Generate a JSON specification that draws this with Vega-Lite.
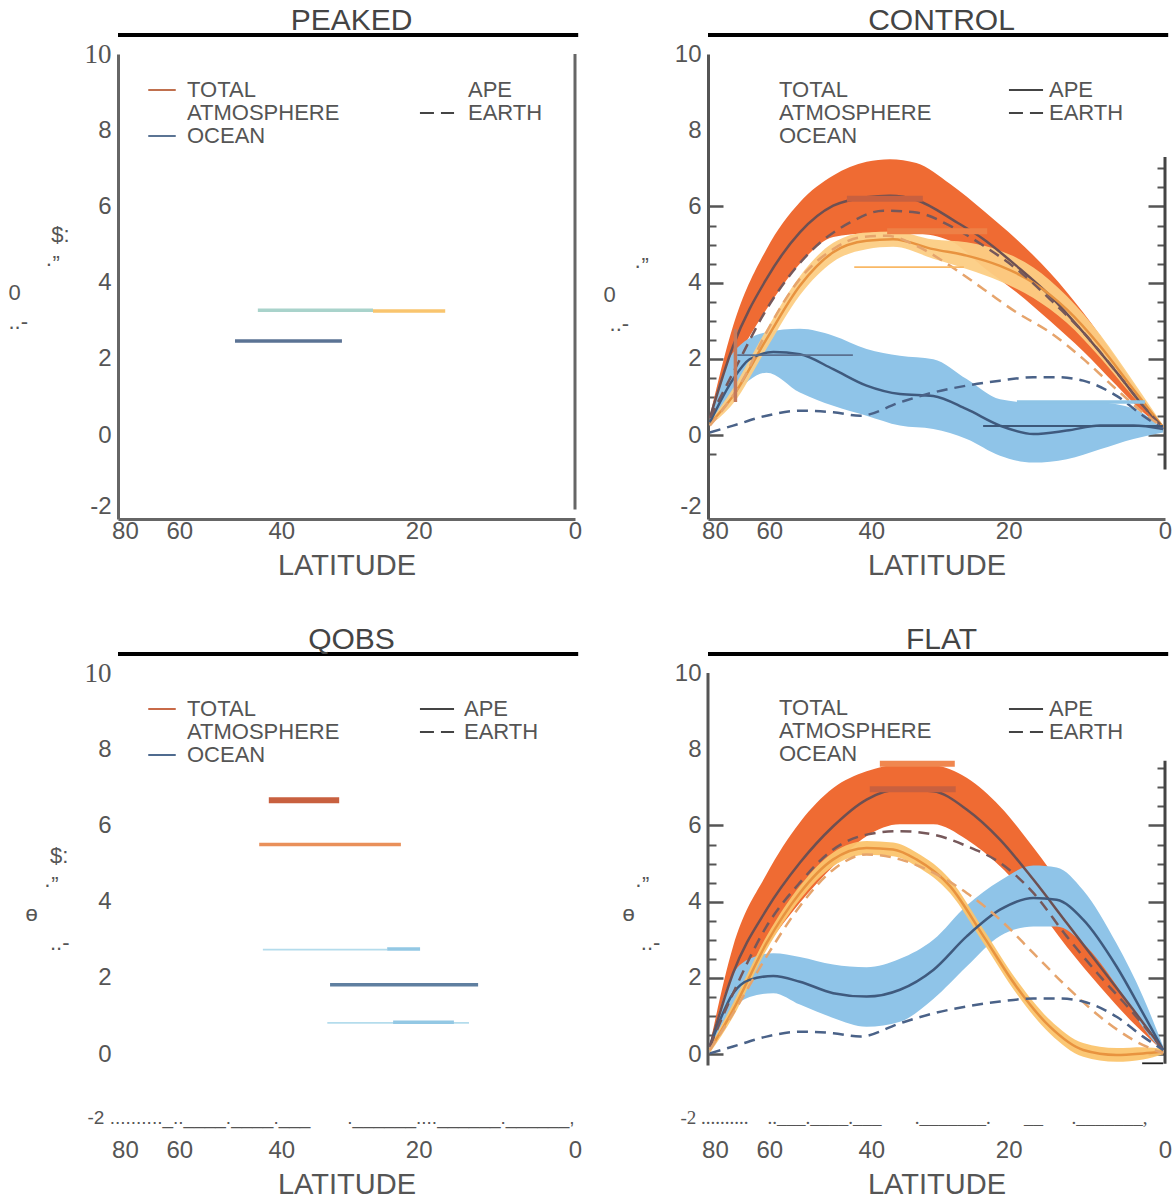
{
"$schema":"https://vega.github.io/schema/vega-lite/v6.json",
"background":"white",
"padding":{"left":8,"top":5,"right":0,"bottom":0},
"autosize":{"type":"pad"},
"config":{"view":{"stroke":null},"font":"Liberation Sans"},
"datasets":{
"leg":[{"series":"TOTAL","kind":"APE","s":0.5,"v":20},{"series":"ATMOSPHERE","kind":"EARTH","s":0.5,"v":20},{"series":"OCEAN","kind":"APE","s":0.5,"v":20}],
"segs":[
{"p":"P","key":"p1teal","s1":0.694,"s2":0.442,"v1":3.28,"v2":3.28},
{"p":"P","key":"p1yellow","s1":0.442,"s2":0.284,"v1":3.26,"v2":3.26},
{"p":"P","key":"p1slate","s1":0.744,"s2":0.51,"v1":2.47,"v2":2.47},
{"p":"C","key":"brownbar","s1":0.696,"s2":0.53,"v1":6.2,"v2":6.2},
{"p":"C","key":"orangebar","s1":0.608,"s2":0.389,"v1":5.35,"v2":5.35},
{"p":"C","key":"yellowthin","s1":0.68,"s2":0.44,"v1":4.41,"v2":4.41},
{"p":"C","key":"brownvert","s1":0.94,"s2":0.94,"v1":0.87,"v2":2.78},
{"p":"C","key":"slatethin","s1":0.936,"s2":0.683,"v1":2.1,"v2":2.1},
{"p":"C","key":"bluebar","s1":0.324,"s2":0.044,"v1":0.87,"v2":0.87},
{"p":"C","key":"darkthin","s1":0.398,"s2":0.004,"v1":0.24,"v2":0.24},
{"p":"Q","key":"brownbar","s1":0.67,"s2":0.516,"v1":6.66,"v2":6.66},
{"p":"Q","key":"p3orange","s1":0.691,"s2":0.381,"v1":5.5,"v2":5.5},
{"p":"Q","key":"p3lightblue","s1":0.683,"s2":0.411,"v1":2.74,"v2":2.74},
{"p":"Q","key":"p3blue","s1":0.411,"s2":0.339,"v1":2.76,"v2":2.76},
{"p":"Q","key":"p3slate","s1":0.536,"s2":0.212,"v1":1.82,"v2":1.82},
{"p":"Q","key":"p3lightblue","s1":0.542,"s2":0.232,"v1":0.82,"v2":0.82},
{"p":"Q","key":"p3blue","s1":0.398,"s2":0.265,"v1":0.84,"v2":0.84},
{"p":"F","key":"lightorangebar","s1":0.624,"s2":0.46,"v1":7.62,"v2":7.62},
{"p":"F","key":"brownbar","s1":0.646,"s2":0.458,"v1":6.95,"v2":6.95},
{"p":"F","key":"black","s1":0.05,"s2":0.004,"v1":-0.24,"v2":-0.24}
],
"bands":[
{"p":"C","series":"TOTAL","s":0.996,"lo":0.4,"hi":0.5},
{"p":"C","series":"TOTAL","s":0.945,"lo":1.8,"hi":2.87},
{"p":"C","series":"TOTAL","s":0.872,"lo":3.3,"hi":4.88},
{"p":"C","series":"TOTAL","s":0.799,"lo":4.5,"hi":6.11},
{"p":"C","series":"TOTAL","s":0.726,"lo":5.2,"hi":6.81},
{"p":"C","series":"TOTAL","s":0.653,"lo":5.3,"hi":7.17},
{"p":"C","series":"TOTAL","s":0.602,"lo":5.33,"hi":7.24},
{"p":"C","series":"TOTAL","s":0.544,"lo":5.3,"hi":7.14},
{"p":"C","series":"TOTAL","s":0.47,"lo":5.1,"hi":6.59},
{"p":"C","series":"TOTAL","s":0.397,"lo":4.4,"hi":5.89},
{"p":"C","series":"TOTAL","s":0.325,"lo":3.75,"hi":5.14},
{"p":"C","series":"TOTAL","s":0.252,"lo":3.0,"hi":4.27},
{"p":"C","series":"TOTAL","s":0.179,"lo":2.2,"hi":3.22},
{"p":"C","series":"TOTAL","s":0.106,"lo":1.3,"hi":2.0},
{"p":"C","series":"TOTAL","s":0.048,"lo":0.6,"hi":0.95},
{"p":"C","series":"TOTAL","s":0.004,"lo":0.2,"hi":0.25},
{"p":"C","series":"ATMOSPHERE","s":0.996,"lo":0.25,"hi":0.35},
{"p":"C","series":"ATMOSPHERE","s":0.945,"lo":0.83,"hi":1.23},
{"p":"C","series":"ATMOSPHERE","s":0.872,"lo":2.27,"hi":2.77},
{"p":"C","series":"ATMOSPHERE","s":0.799,"lo":3.67,"hi":4.17},
{"p":"C","series":"ATMOSPHERE","s":0.726,"lo":4.55,"hi":5.05},
{"p":"C","series":"ATMOSPHERE","s":0.653,"lo":4.88,"hi":5.32},
{"p":"C","series":"ATMOSPHERE","s":0.595,"lo":4.94,"hi":5.34},
{"p":"C","series":"ATMOSPHERE","s":0.507,"lo":4.63,"hi":5.13},
{"p":"C","series":"ATMOSPHERE","s":0.434,"lo":4.36,"hi":5.06},
{"p":"C","series":"ATMOSPHERE","s":0.361,"lo":4.04,"hi":4.84},
{"p":"C","series":"ATMOSPHERE","s":0.288,"lo":3.6,"hi":4.4},
{"p":"C","series":"ATMOSPHERE","s":0.215,"lo":2.95,"hi":3.65},
{"p":"C","series":"ATMOSPHERE","s":0.142,"lo":2.04,"hi":2.64},
{"p":"C","series":"ATMOSPHERE","s":0.069,"lo":1.0,"hi":1.4},
{"p":"C","series":"ATMOSPHERE","s":0.004,"lo":0.15,"hi":0.25},
{"p":"C","series":"OCEAN","s":0.996,"lo":0.25,"hi":0.5},
{"p":"C","series":"OCEAN","s":0.945,"lo":1.03,"hi":2.17},
{"p":"C","series":"OCEAN","s":0.872,"lo":1.64,"hi":2.7},
{"p":"C","series":"OCEAN","s":0.799,"lo":1.12,"hi":2.79},
{"p":"C","series":"OCEAN","s":0.726,"lo":0.77,"hi":2.61},
{"p":"C","series":"OCEAN","s":0.653,"lo":0.51,"hi":2.26},
{"p":"C","series":"OCEAN","s":0.58,"lo":0.25,"hi":2.08},
{"p":"C","series":"OCEAN","s":0.507,"lo":0.16,"hi":1.99},
{"p":"C","series":"OCEAN","s":0.434,"lo":-0.1,"hi":1.47},
{"p":"C","series":"OCEAN","s":0.361,"lo":-0.54,"hi":0.94},
{"p":"C","series":"OCEAN","s":0.288,"lo":-0.72,"hi":0.85},
{"p":"C","series":"OCEAN","s":0.215,"lo":-0.63,"hi":0.85},
{"p":"C","series":"OCEAN","s":0.142,"lo":-0.37,"hi":0.85},
{"p":"C","series":"OCEAN","s":0.069,"lo":-0.1,"hi":0.7},
{"p":"C","series":"OCEAN","s":0.004,"lo":0.07,"hi":0.15},
{"p":"F","series":"TOTAL","s":0.996,"lo":0.15,"hi":0.25},
{"p":"F","series":"TOTAL","s":0.945,"lo":1.42,"hi":2.83},
{"p":"F","series":"TOTAL","s":0.872,"lo":2.82,"hi":4.72},
{"p":"F","series":"TOTAL","s":0.799,"lo":3.97,"hi":6.08},
{"p":"F","series":"TOTAL","s":0.726,"lo":4.93,"hi":6.98},
{"p":"F","series":"TOTAL","s":0.653,"lo":5.72,"hi":7.42},
{"p":"F","series":"TOTAL","s":0.58,"lo":6.03,"hi":7.6},
{"p":"F","series":"TOTAL","s":0.507,"lo":6.03,"hi":7.58},
{"p":"F","series":"TOTAL","s":0.434,"lo":5.63,"hi":7.25},
{"p":"F","series":"TOTAL","s":0.361,"lo":4.93,"hi":6.5},
{"p":"F","series":"TOTAL","s":0.288,"lo":3.97,"hi":5.42},
{"p":"F","series":"TOTAL","s":0.215,"lo":2.82,"hi":4.2},
{"p":"F","series":"TOTAL","s":0.142,"lo":1.77,"hi":2.82},
{"p":"F","series":"TOTAL","s":0.069,"lo":0.81,"hi":1.42},
{"p":"F","series":"TOTAL","s":0.004,"lo":0.08,"hi":0.15},
{"p":"F","series":"ATMOSPHERE","s":0.996,"lo":0.03,"hi":0.19},
{"p":"F","series":"ATMOSPHERE","s":0.945,"lo":0.98,"hi":1.34},
{"p":"F","series":"ATMOSPHERE","s":0.872,"lo":2.73,"hi":3.09},
{"p":"F","series":"ATMOSPHERE","s":0.799,"lo":4.05,"hi":4.41},
{"p":"F","series":"ATMOSPHERE","s":0.726,"lo":4.93,"hi":5.29},
{"p":"F","series":"ATMOSPHERE","s":0.653,"lo":5.23,"hi":5.59},
{"p":"F","series":"ATMOSPHERE","s":0.595,"lo":5.19,"hi":5.55},
{"p":"F","series":"ATMOSPHERE","s":0.544,"lo":4.93,"hi":5.29},
{"p":"F","series":"ATMOSPHERE","s":0.47,"lo":4.22,"hi":4.58},
{"p":"F","series":"ATMOSPHERE","s":0.397,"lo":2.91,"hi":3.27},
{"p":"F","series":"ATMOSPHERE","s":0.325,"lo":1.59,"hi":1.95},
{"p":"F","series":"ATMOSPHERE","s":0.252,"lo":0.54,"hi":0.9},
{"p":"F","series":"ATMOSPHERE","s":0.179,"lo":-0.07,"hi":0.29},
{"p":"F","series":"ATMOSPHERE","s":0.106,"lo":-0.2,"hi":0.16},
{"p":"F","series":"ATMOSPHERE","s":0.048,"lo":-0.14,"hi":0.18},
{"p":"F","series":"ATMOSPHERE","s":0.004,"lo":0.0,"hi":0.14},
{"p":"F","series":"OCEAN","s":0.996,"lo":0.15,"hi":0.25},
{"p":"F","series":"OCEAN","s":0.945,"lo":1.2,"hi":2.1},
{"p":"F","series":"OCEAN","s":0.909,"lo":1.5,"hi":2.5},
{"p":"F","series":"OCEAN","s":0.857,"lo":1.6,"hi":2.65},
{"p":"F","series":"OCEAN","s":0.799,"lo":1.3,"hi":2.55},
{"p":"F","series":"OCEAN","s":0.726,"lo":0.95,"hi":2.35},
{"p":"F","series":"OCEAN","s":0.653,"lo":0.72,"hi":2.28},
{"p":"F","series":"OCEAN","s":0.58,"lo":0.85,"hi":2.5},
{"p":"F","series":"OCEAN","s":0.507,"lo":1.45,"hi":3.0},
{"p":"F","series":"OCEAN","s":0.434,"lo":2.3,"hi":3.9},
{"p":"F","series":"OCEAN","s":0.361,"lo":3.1,"hi":4.55},
{"p":"F","series":"OCEAN","s":0.288,"lo":3.35,"hi":4.95},
{"p":"F","series":"OCEAN","s":0.237,"lo":3.35,"hi":4.9},
{"p":"F","series":"OCEAN","s":0.179,"lo":2.9,"hi":4.3},
{"p":"F","series":"OCEAN","s":0.106,"lo":1.8,"hi":2.9},
{"p":"F","series":"OCEAN","s":0.048,"lo":0.7,"hi":1.5},
{"p":"F","series":"OCEAN","s":0.004,"lo":0.05,"hi":0.2}
],
"lines":[
{"p":"C","key":"TOTAL APE","kind":"APE","s":0.996,"v":0.45},
{"p":"C","key":"TOTAL APE","kind":"APE","s":0.945,"v":2.34},
{"p":"C","key":"TOTAL APE","kind":"APE","s":0.872,"v":4.1},
{"p":"C","key":"TOTAL APE","kind":"APE","s":0.799,"v":5.32},
{"p":"C","key":"TOTAL APE","kind":"APE","s":0.726,"v":6.02},
{"p":"C","key":"TOTAL APE","kind":"APE","s":0.653,"v":6.24},
{"p":"C","key":"TOTAL APE","kind":"APE","s":0.602,"v":6.28},
{"p":"C","key":"TOTAL APE","kind":"APE","s":0.544,"v":6.17},
{"p":"C","key":"TOTAL APE","kind":"APE","s":0.455,"v":5.58},
{"p":"C","key":"TOTAL APE","kind":"APE","s":0.397,"v":5.14},
{"p":"C","key":"TOTAL APE","kind":"APE","s":0.325,"v":4.44},
{"p":"C","key":"TOTAL APE","kind":"APE","s":0.252,"v":3.66},
{"p":"C","key":"TOTAL APE","kind":"APE","s":0.179,"v":2.7},
{"p":"C","key":"TOTAL APE","kind":"APE","s":0.106,"v":1.65},
{"p":"C","key":"TOTAL APE","kind":"APE","s":0.048,"v":0.77},
{"p":"C","key":"TOTAL APE","kind":"APE","s":0.004,"v":0.2},
{"p":"C","key":"TOTAL EARTH","kind":"EARTH","s":0.996,"v":0.45},
{"p":"C","key":"TOTAL EARTH","kind":"EARTH","s":0.945,"v":1.64},
{"p":"C","key":"TOTAL EARTH","kind":"EARTH","s":0.872,"v":3.3},
{"p":"C","key":"TOTAL EARTH","kind":"EARTH","s":0.777,"v":4.8},
{"p":"C","key":"TOTAL EARTH","kind":"EARTH","s":0.689,"v":5.58},
{"p":"C","key":"TOTAL EARTH","kind":"EARTH","s":0.616,"v":5.89},
{"p":"C","key":"TOTAL EARTH","kind":"EARTH","s":0.544,"v":5.84},
{"p":"C","key":"TOTAL EARTH","kind":"EARTH","s":0.47,"v":5.49},
{"p":"C","key":"TOTAL EARTH","kind":"EARTH","s":0.397,"v":4.97},
{"p":"C","key":"TOTAL EARTH","kind":"EARTH","s":0.325,"v":4.36},
{"p":"C","key":"TOTAL EARTH","kind":"EARTH","s":0.252,"v":3.57},
{"p":"C","key":"TOTAL EARTH","kind":"EARTH","s":0.179,"v":2.7},
{"p":"C","key":"TOTAL EARTH","kind":"EARTH","s":0.106,"v":1.65},
{"p":"C","key":"TOTAL EARTH","kind":"EARTH","s":0.048,"v":0.77},
{"p":"C","key":"TOTAL EARTH","kind":"EARTH","s":0.004,"v":0.2},
{"p":"C","key":"ATMOSPHERE APE","kind":"APE","s":0.996,"v":0.3},
{"p":"C","key":"ATMOSPHERE APE","kind":"APE","s":0.945,"v":1.03},
{"p":"C","key":"ATMOSPHERE APE","kind":"APE","s":0.872,"v":2.52},
{"p":"C","key":"ATMOSPHERE APE","kind":"APE","s":0.799,"v":3.92},
{"p":"C","key":"ATMOSPHERE APE","kind":"APE","s":0.726,"v":4.8},
{"p":"C","key":"ATMOSPHERE APE","kind":"APE","s":0.653,"v":5.1},
{"p":"C","key":"ATMOSPHERE APE","kind":"APE","s":0.595,"v":5.14},
{"p":"C","key":"ATMOSPHERE APE","kind":"APE","s":0.507,"v":4.88},
{"p":"C","key":"ATMOSPHERE APE","kind":"APE","s":0.434,"v":4.71},
{"p":"C","key":"ATMOSPHERE APE","kind":"APE","s":0.361,"v":4.44},
{"p":"C","key":"ATMOSPHERE APE","kind":"APE","s":0.288,"v":4.0},
{"p":"C","key":"ATMOSPHERE APE","kind":"APE","s":0.215,"v":3.3},
{"p":"C","key":"ATMOSPHERE APE","kind":"APE","s":0.142,"v":2.34},
{"p":"C","key":"ATMOSPHERE APE","kind":"APE","s":0.069,"v":1.2},
{"p":"C","key":"ATMOSPHERE APE","kind":"APE","s":0.004,"v":0.2},
{"p":"C","key":"ATMOSPHERE EARTH","kind":"EARTH","s":0.996,"v":0.25},
{"p":"C","key":"ATMOSPHERE EARTH","kind":"EARTH","s":0.923,"v":1.47},
{"p":"C","key":"ATMOSPHERE EARTH","kind":"EARTH","s":0.872,"v":2.7},
{"p":"C","key":"ATMOSPHERE EARTH","kind":"EARTH","s":0.799,"v":4.1},
{"p":"C","key":"ATMOSPHERE EARTH","kind":"EARTH","s":0.726,"v":4.88},
{"p":"C","key":"ATMOSPHERE EARTH","kind":"EARTH","s":0.667,"v":5.19},
{"p":"C","key":"ATMOSPHERE EARTH","kind":"EARTH","s":0.609,"v":5.23},
{"p":"C","key":"ATMOSPHERE EARTH","kind":"EARTH","s":0.544,"v":4.97},
{"p":"C","key":"ATMOSPHERE EARTH","kind":"EARTH","s":0.47,"v":4.44},
{"p":"C","key":"ATMOSPHERE EARTH","kind":"EARTH","s":0.397,"v":3.83},
{"p":"C","key":"ATMOSPHERE EARTH","kind":"EARTH","s":0.325,"v":3.22},
{"p":"C","key":"ATMOSPHERE EARTH","kind":"EARTH","s":0.252,"v":2.7},
{"p":"C","key":"ATMOSPHERE EARTH","kind":"EARTH","s":0.179,"v":2.0},
{"p":"C","key":"ATMOSPHERE EARTH","kind":"EARTH","s":0.106,"v":1.2},
{"p":"C","key":"ATMOSPHERE EARTH","kind":"EARTH","s":0.048,"v":0.59},
{"p":"C","key":"ATMOSPHERE EARTH","kind":"EARTH","s":0.004,"v":0.2},
{"p":"C","key":"OCEAN APE","kind":"APE","s":0.996,"v":0.33},
{"p":"C","key":"OCEAN APE","kind":"APE","s":0.945,"v":1.47},
{"p":"C","key":"OCEAN APE","kind":"APE","s":0.909,"v":1.99},
{"p":"C","key":"OCEAN APE","kind":"APE","s":0.857,"v":2.18},
{"p":"C","key":"OCEAN APE","kind":"APE","s":0.799,"v":2.12},
{"p":"C","key":"OCEAN APE","kind":"APE","s":0.726,"v":1.73},
{"p":"C","key":"OCEAN APE","kind":"APE","s":0.653,"v":1.3},
{"p":"C","key":"OCEAN APE","kind":"APE","s":0.58,"v":1.08},
{"p":"C","key":"OCEAN APE","kind":"APE","s":0.507,"v":1.03},
{"p":"C","key":"OCEAN APE","kind":"APE","s":0.434,"v":0.68},
{"p":"C","key":"OCEAN APE","kind":"APE","s":0.361,"v":0.25},
{"p":"C","key":"OCEAN APE","kind":"APE","s":0.288,"v":0.03},
{"p":"C","key":"OCEAN APE","kind":"APE","s":0.215,"v":0.12},
{"p":"C","key":"OCEAN APE","kind":"APE","s":0.142,"v":0.25},
{"p":"C","key":"OCEAN APE","kind":"APE","s":0.069,"v":0.25},
{"p":"C","key":"OCEAN APE","kind":"APE","s":0.004,"v":0.16},
{"p":"C","key":"OCEAN EARTH","kind":"EARTH","s":0.996,"v":0.07},
{"p":"C","key":"OCEAN EARTH","kind":"EARTH","s":0.945,"v":0.25},
{"p":"C","key":"OCEAN EARTH","kind":"EARTH","s":0.872,"v":0.51},
{"p":"C","key":"OCEAN EARTH","kind":"EARTH","s":0.799,"v":0.64},
{"p":"C","key":"OCEAN EARTH","kind":"EARTH","s":0.726,"v":0.6},
{"p":"C","key":"OCEAN EARTH","kind":"EARTH","s":0.667,"v":0.51},
{"p":"C","key":"OCEAN EARTH","kind":"EARTH","s":0.58,"v":0.86},
{"p":"C","key":"OCEAN EARTH","kind":"EARTH","s":0.507,"v":1.12},
{"p":"C","key":"OCEAN EARTH","kind":"EARTH","s":0.434,"v":1.3},
{"p":"C","key":"OCEAN EARTH","kind":"EARTH","s":0.361,"v":1.43},
{"p":"C","key":"OCEAN EARTH","kind":"EARTH","s":0.288,"v":1.52},
{"p":"C","key":"OCEAN EARTH","kind":"EARTH","s":0.237,"v":1.52},
{"p":"C","key":"OCEAN EARTH","kind":"EARTH","s":0.179,"v":1.43},
{"p":"C","key":"OCEAN EARTH","kind":"EARTH","s":0.106,"v":1.03},
{"p":"C","key":"OCEAN EARTH","kind":"EARTH","s":0.048,"v":0.51},
{"p":"C","key":"OCEAN EARTH","kind":"EARTH","s":0.004,"v":0.16},
{"p":"F","key":"TOTAL APE","kind":"APE","s":0.996,"v":0.2},
{"p":"F","key":"TOTAL APE","kind":"APE","s":0.945,"v":2.13},
{"p":"F","key":"TOTAL APE","kind":"APE","s":0.872,"v":3.79},
{"p":"F","key":"TOTAL APE","kind":"APE","s":0.799,"v":5.02},
{"p":"F","key":"TOTAL APE","kind":"APE","s":0.726,"v":5.98},
{"p":"F","key":"TOTAL APE","kind":"APE","s":0.653,"v":6.68},
{"p":"F","key":"TOTAL APE","kind":"APE","s":0.58,"v":6.95},
{"p":"F","key":"TOTAL APE","kind":"APE","s":0.507,"v":6.9},
{"p":"F","key":"TOTAL APE","kind":"APE","s":0.434,"v":6.42},
{"p":"F","key":"TOTAL APE","kind":"APE","s":0.361,"v":5.63},
{"p":"F","key":"TOTAL APE","kind":"APE","s":0.288,"v":4.58},
{"p":"F","key":"TOTAL APE","kind":"APE","s":0.215,"v":3.44},
{"p":"F","key":"TOTAL APE","kind":"APE","s":0.142,"v":2.3},
{"p":"F","key":"TOTAL APE","kind":"APE","s":0.069,"v":1.16},
{"p":"F","key":"TOTAL APE","kind":"APE","s":0.004,"v":0.11},
{"p":"F","key":"TOTAL EARTH","kind":"EARTH","s":0.996,"v":0.2},
{"p":"F","key":"TOTAL EARTH","kind":"EARTH","s":0.945,"v":1.6},
{"p":"F","key":"TOTAL EARTH","kind":"EARTH","s":0.872,"v":3.35},
{"p":"F","key":"TOTAL EARTH","kind":"EARTH","s":0.799,"v":4.5},
{"p":"F","key":"TOTAL EARTH","kind":"EARTH","s":0.726,"v":5.37},
{"p":"F","key":"TOTAL EARTH","kind":"EARTH","s":0.653,"v":5.76},
{"p":"F","key":"TOTAL EARTH","kind":"EARTH","s":0.58,"v":5.85},
{"p":"F","key":"TOTAL EARTH","kind":"EARTH","s":0.507,"v":5.76},
{"p":"F","key":"TOTAL EARTH","kind":"EARTH","s":0.434,"v":5.46},
{"p":"F","key":"TOTAL EARTH","kind":"EARTH","s":0.361,"v":5.02},
{"p":"F","key":"TOTAL EARTH","kind":"EARTH","s":0.288,"v":4.23},
{"p":"F","key":"TOTAL EARTH","kind":"EARTH","s":0.215,"v":3.09},
{"p":"F","key":"TOTAL EARTH","kind":"EARTH","s":0.142,"v":2.04},
{"p":"F","key":"TOTAL EARTH","kind":"EARTH","s":0.069,"v":1.07},
{"p":"F","key":"TOTAL EARTH","kind":"EARTH","s":0.004,"v":0.11},
{"p":"F","key":"ATMOSPHERE APE","kind":"APE","s":0.996,"v":0.11},
{"p":"F","key":"ATMOSPHERE APE","kind":"APE","s":0.945,"v":1.16},
{"p":"F","key":"ATMOSPHERE APE","kind":"APE","s":0.872,"v":2.91},
{"p":"F","key":"ATMOSPHERE APE","kind":"APE","s":0.799,"v":4.23},
{"p":"F","key":"ATMOSPHERE APE","kind":"APE","s":0.726,"v":5.11},
{"p":"F","key":"ATMOSPHERE APE","kind":"APE","s":0.653,"v":5.41},
{"p":"F","key":"ATMOSPHERE APE","kind":"APE","s":0.595,"v":5.37},
{"p":"F","key":"ATMOSPHERE APE","kind":"APE","s":0.544,"v":5.11},
{"p":"F","key":"ATMOSPHERE APE","kind":"APE","s":0.47,"v":4.4},
{"p":"F","key":"ATMOSPHERE APE","kind":"APE","s":0.397,"v":3.09},
{"p":"F","key":"ATMOSPHERE APE","kind":"APE","s":0.325,"v":1.77},
{"p":"F","key":"ATMOSPHERE APE","kind":"APE","s":0.252,"v":0.72},
{"p":"F","key":"ATMOSPHERE APE","kind":"APE","s":0.179,"v":0.11},
{"p":"F","key":"ATMOSPHERE APE","kind":"APE","s":0.106,"v":-0.02},
{"p":"F","key":"ATMOSPHERE APE","kind":"APE","s":0.048,"v":0.02},
{"p":"F","key":"ATMOSPHERE APE","kind":"APE","s":0.004,"v":0.07},
{"p":"F","key":"ATMOSPHERE EARTH","kind":"EARTH","s":0.996,"v":0.11},
{"p":"F","key":"ATMOSPHERE EARTH","kind":"EARTH","s":0.945,"v":1.07},
{"p":"F","key":"ATMOSPHERE EARTH","kind":"EARTH","s":0.872,"v":2.56},
{"p":"F","key":"ATMOSPHERE EARTH","kind":"EARTH","s":0.799,"v":3.88},
{"p":"F","key":"ATMOSPHERE EARTH","kind":"EARTH","s":0.726,"v":4.84},
{"p":"F","key":"ATMOSPHERE EARTH","kind":"EARTH","s":0.653,"v":5.24},
{"p":"F","key":"ATMOSPHERE EARTH","kind":"EARTH","s":0.58,"v":5.11},
{"p":"F","key":"ATMOSPHERE EARTH","kind":"EARTH","s":0.507,"v":4.76},
{"p":"F","key":"ATMOSPHERE EARTH","kind":"EARTH","s":0.434,"v":4.23},
{"p":"F","key":"ATMOSPHERE EARTH","kind":"EARTH","s":0.361,"v":3.53},
{"p":"F","key":"ATMOSPHERE EARTH","kind":"EARTH","s":0.288,"v":2.65},
{"p":"F","key":"ATMOSPHERE EARTH","kind":"EARTH","s":0.215,"v":1.77},
{"p":"F","key":"ATMOSPHERE EARTH","kind":"EARTH","s":0.142,"v":0.98},
{"p":"F","key":"ATMOSPHERE EARTH","kind":"EARTH","s":0.069,"v":0.37},
{"p":"F","key":"ATMOSPHERE EARTH","kind":"EARTH","s":0.004,"v":0.02},
{"p":"F","key":"OCEAN APE","kind":"APE","s":0.996,"v":0.2},
{"p":"F","key":"OCEAN APE","kind":"APE","s":0.945,"v":1.6},
{"p":"F","key":"OCEAN APE","kind":"APE","s":0.909,"v":1.95},
{"p":"F","key":"OCEAN APE","kind":"APE","s":0.857,"v":2.05},
{"p":"F","key":"OCEAN APE","kind":"APE","s":0.799,"v":1.9},
{"p":"F","key":"OCEAN APE","kind":"APE","s":0.726,"v":1.6},
{"p":"F","key":"OCEAN APE","kind":"APE","s":0.653,"v":1.51},
{"p":"F","key":"OCEAN APE","kind":"APE","s":0.58,"v":1.69},
{"p":"F","key":"OCEAN APE","kind":"APE","s":0.507,"v":2.21},
{"p":"F","key":"OCEAN APE","kind":"APE","s":0.434,"v":3.09},
{"p":"F","key":"OCEAN APE","kind":"APE","s":0.361,"v":3.79},
{"p":"F","key":"OCEAN APE","kind":"APE","s":0.288,"v":4.1},
{"p":"F","key":"OCEAN APE","kind":"APE","s":0.237,"v":4.05},
{"p":"F","key":"OCEAN APE","kind":"APE","s":0.179,"v":3.53},
{"p":"F","key":"OCEAN APE","kind":"APE","s":0.106,"v":2.3},
{"p":"F","key":"OCEAN APE","kind":"APE","s":0.048,"v":1.07},
{"p":"F","key":"OCEAN APE","kind":"APE","s":0.004,"v":0.11},
{"p":"F","key":"OCEAN EARTH","kind":"EARTH","s":0.996,"v":0.02},
{"p":"F","key":"OCEAN EARTH","kind":"EARTH","s":0.945,"v":0.2},
{"p":"F","key":"OCEAN EARTH","kind":"EARTH","s":0.872,"v":0.46},
{"p":"F","key":"OCEAN EARTH","kind":"EARTH","s":0.799,"v":0.59},
{"p":"F","key":"OCEAN EARTH","kind":"EARTH","s":0.726,"v":0.55},
{"p":"F","key":"OCEAN EARTH","kind":"EARTH","s":0.667,"v":0.46},
{"p":"F","key":"OCEAN EARTH","kind":"EARTH","s":0.58,"v":0.81},
{"p":"F","key":"OCEAN EARTH","kind":"EARTH","s":0.507,"v":1.07},
{"p":"F","key":"OCEAN EARTH","kind":"EARTH","s":0.434,"v":1.25},
{"p":"F","key":"OCEAN EARTH","kind":"EARTH","s":0.361,"v":1.38},
{"p":"F","key":"OCEAN EARTH","kind":"EARTH","s":0.288,"v":1.46},
{"p":"F","key":"OCEAN EARTH","kind":"EARTH","s":0.23,"v":1.46},
{"p":"F","key":"OCEAN EARTH","kind":"EARTH","s":0.179,"v":1.38},
{"p":"F","key":"OCEAN EARTH","kind":"EARTH","s":0.106,"v":0.98},
{"p":"F","key":"OCEAN EARTH","kind":"EARTH","s":0.048,"v":0.46},
{"p":"F","key":"OCEAN EARTH","kind":"EARTH","s":0.004,"v":0.11}
]
},
"columns":2,
"spacing":{"row":154,"column":133},
"bounds":"flush",
"resolve":{"scale":{"x":"independent","y":"independent","color":"independent","strokeDash":"independent","stroke":"independent"},"legend":{"color":"independent","strokeDash":"independent"},"axis":{"x":"independent","y":"independent"}},
"concat":[
{
"width":457,"height":465,
"title":{"text":"PEAKED","fontSize":30,"font":"Liberation Sans","fontWeight":"normal","color":"#444444","anchor":"middle","frame":"group","offset":-3,"dx":5},
"resolve":{"axis":{"x":"independent","y":"independent"}},
"layer":[
{"data":{"values":[{}]},"mark":{"type":"rule","color":"#000000","strokeWidth":4},
"encoding":{"x":{"datum":1,"type":"quantitative","scale":{"domain":[0,1],"reverse":true,"nice":false,"zero":false},"axis":{"orient":"bottom","values":[0.98481,0.86603,0.64279,0.34202,0],"labelExpr":"round(asin(datum.value)*180/PI)","title":"LATITUDE","ticks":false,"grid":false,"domain":true,"domainColor":"#666666","domainWidth":3,"labelFontSize":24,"labelColor":"#555555","labelFont":"Liberation Sans","labelPadding":0,"labelFlush":false,"labelOverlap":false,"titleFontSize":29,"titleFont":"Liberation Sans","titleFontWeight":"normal","titleColor":"#555555","titlePadding":8}},
"x2":{"datum":-0.007},
"y":{"datum":10.5,"type":"quantitative","scale":{"domain":[-2.2,10],"nice":false,"zero":false},"axis":{"orient":"left","values":[0,2,4,6,8,10],"ticks":false,"grid":false,"domain":true,"domainColor":"#666666","domainWidth":3,"labelFontSize":{"condition":{"test":"datum.value==10","value":27},"value":24},"labelColor":"#555555","labelFont":{"condition":{"test":"datum.value==10","value":"Liberation Serif"},"value":"Liberation Sans"},"labelPadding":7,"labelOverlap":false,"title":["\u200b\u00a0\u00a0\u00a0\u00a0\u00a0\u00a0\u00a0$:","\u200b\u00a0\u00a0\u00a0\u00a0\u00a0\u00a0·”","0","..-"],"titleAngle":0,"titleAlign":"left","titleBaseline":"top","titleX":-110,"titleY":170,"titleFontSize":22,"titleFont":"Liberation Sans","titleFontWeight":"normal","titleColor":"#555555","titleLineHeight":29}}}},
{"data":{"values":[{}]},"mark":{"type":"rule","color":"#666666","strokeWidth":3},
"encoding":{"x":{"datum":0,"type":"quantitative","scale":{"domain":[0,1],"reverse":true,"nice":false,"zero":false},"axis":null},"y":{"datum":-1.95,"type":"quantitative","scale":{"domain":[-2.2,10],"nice":false,"zero":false},"axis":null},"y2":{"datum":10}}},
{"data":{"name":"segs"},"transform":[{"filter":"datum.p=='P' && indexof(['slatethin','darkthin','black','yellowthin','p3lightblue'],datum.key)>=0"}],"mark":{"type":"rule","strokeWidth":1.8},
"encoding":{"x":{"field":"s1","type":"quantitative","scale":{"domain":[0,1],"reverse":true,"nice":false,"zero":false},"axis":null},"x2":{"field":"s2"},"y":{"field":"v1","type":"quantitative","scale":{"domain":[-2.2,10],"nice":false,"zero":false},"axis":null},"y2":{"field":"v2"},
"stroke":{"field":"key","type":"nominal","scale":{"domain":["TOTAL APE","TOTAL EARTH","ATMOSPHERE APE","ATMOSPHERE EARTH","OCEAN APE","OCEAN EARTH","p1teal","p1yellow","p1slate","brownbar","orangebar","yellowthin","brownvert","slatethin","bluebar","darkthin","p3orange","p3lightblue","p3blue","p3slate","lightorangebar","black"],"range":["#6d5052","#76585a","#e8933f","#e6a46c","#3f5a7e","#4a6288","#a9d3cb","#f9c56e","#5b7394","#c8603f","#ee8046","#f9b866","#c47a5c","#5a7090","#8ec4e6","#3d5879","#e9905a","#b4dcec","#93c8e4","#5f7fa0","#f0874f","#222222"]},"legend":null}}},
{"data":{"name":"segs"},"transform":[{"filter":"datum.p=='P' && indexof(['p1teal','p1yellow','p1slate','bluebar','brownvert','p3orange','p3blue','p3slate'],datum.key)>=0"}],"mark":{"type":"rule","strokeWidth":3.5},
"encoding":{"x":{"field":"s1","type":"quantitative","scale":{"domain":[0,1],"reverse":true,"nice":false,"zero":false},"axis":null},"x2":{"field":"s2"},"y":{"field":"v1","type":"quantitative","scale":{"domain":[-2.2,10],"nice":false,"zero":false},"axis":null},"y2":{"field":"v2"},
"stroke":{"field":"key","type":"nominal","scale":{"domain":["TOTAL APE","TOTAL EARTH","ATMOSPHERE APE","ATMOSPHERE EARTH","OCEAN APE","OCEAN EARTH","p1teal","p1yellow","p1slate","brownbar","orangebar","yellowthin","brownvert","slatethin","bluebar","darkthin","p3orange","p3lightblue","p3blue","p3slate","lightorangebar","black"],"range":["#6d5052","#76585a","#e8933f","#e6a46c","#3f5a7e","#4a6288","#a9d3cb","#f9c56e","#5b7394","#c8603f","#ee8046","#f9b866","#c47a5c","#5a7090","#8ec4e6","#3d5879","#e9905a","#b4dcec","#93c8e4","#5f7fa0","#f0874f","#222222"]},"legend":null}}},
{"data":{"name":"leg"},"mark":{"type":"line","clip":true},
"encoding":{"x":{"field":"s","type":"quantitative","scale":{"domain":[0,1],"reverse":true,"nice":false,"zero":false},"axis":null},
"y":{"field":"v","type":"quantitative","scale":{"domain":[-2.2,10],"nice":false,"zero":false},"axis":{"orient":"left","values":[-2],"labelExpr":"'-2'","ticks":false,"domain":false,"grid":false,"title":null,"labelFontSize":24,"labelColor":"#555555","labelFont":"Liberation Sans","labelPadding":7,"labelOffset":-5}},
"color":{"field":"series","type":"nominal","scale":{"domain":["TOTAL","ATMOSPHERE","OCEAN"],"range":["#c0704e","transparent","#5b7494"]},"legend":{"orient":"none","legendX":32,"legendY":24,"title":null,"symbolType":"M-1.25,0H1.25","symbolSize":484,"symbolStrokeWidth":2,"labelFontSize":22,"labelFont":"Liberation Sans","labelColor":"#555555","labelOffset":13,"rowPadding":0,"padding":0,"labelLimit":0}},
"strokeDash":{"field":"kind","type":"nominal","scale":{"domain":["APE","EARTH"],"range":[[0,100],[14,7]]},"legend":{"orient":"none","legendX":307,"legendY":24,"title":null,"symbolType":"M-1.55,0H1.55","symbolSize":484,"symbolStrokeWidth":2,"symbolStrokeColor":"#444444","labelFontSize":22,"labelFont":"Liberation Sans","labelColor":"#555555","labelOffset":19,"rowPadding":0,"padding":0,"labelLimit":0}}}}
]
},
{
"width":457,"height":465,
"title":{"text":"CONTROL","fontSize":30,"font":"Liberation Sans","fontWeight":"normal","color":"#444444","anchor":"middle","frame":"group","offset":-3,"dx":5},
"resolve":{"axis":{"x":"independent","y":"independent"}},
"layer":[
{"data":{"values":[{}]},"mark":{"type":"rule","color":"#000000","strokeWidth":4},
"encoding":{"x":{"datum":1,"type":"quantitative","scale":{"domain":[0,1],"reverse":true,"nice":false,"zero":false},"axis":{"orient":"bottom","values":[0.98481,0.86603,0.64279,0.34202,0],"labelExpr":"round(asin(datum.value)*180/PI)","title":"LATITUDE","ticks":false,"grid":false,"domain":true,"domainColor":"#666666","domainWidth":3,"labelFontSize":24,"labelColor":"#555555","labelFont":"Liberation Sans","labelPadding":0,"labelFlush":false,"labelOverlap":false,"titleFontSize":29,"titleFont":"Liberation Sans","titleFontWeight":"normal","titleColor":"#555555","titlePadding":8}},
"x2":{"datum":-0.007},
"y":{"datum":10.5,"type":"quantitative","scale":{"domain":[-2.2,10],"nice":false,"zero":false},"axis":{"orient":"left","values":[0,2,4,6,8,10],"ticks":false,"grid":false,"domain":true,"domainColor":"#555555","domainWidth":3,"labelFontSize":24,"labelColor":"#555555","labelFont":"Liberation Sans","labelPadding":7,"labelOverlap":false,"title":["\u200b\u00a0\u00a0\u00a0\u00a0\u00a0·”","0","\u200b\u00a0..-"],"titleAngle":0,"titleAlign":"left","titleBaseline":"top","titleX":-105,"titleY":201,"titleFontSize":22,"titleFont":"Liberation Sans","titleFontWeight":"normal","titleColor":"#555555","titleLineHeight":29}}}},
{"data":{"values":[{}]},"mark":{"type":"rule","color":"#444444","strokeWidth":3},
"encoding":{"x":{"datum":0,"type":"quantitative","scale":{"domain":[0,1],"reverse":true,"nice":false,"zero":false},"axis":null},"y":{"datum":-0.9,"type":"quantitative","scale":{"domain":[-2.2,10],"nice":false,"zero":false},"axis":null},"y2":{"datum":7.3}}},
{"data":{"name":"bands"},"transform":[{"filter":"datum.p=='C' && datum.series=='TOTAL'"}],"mark":{"type":"area","interpolate":"monotone","color":"#ef6b33"},
"encoding":{"x":{"field":"s","type":"quantitative","scale":{"domain":[0,1],"reverse":true,"nice":false,"zero":false},"axis":null},"y":{"field":"lo","type":"quantitative","scale":{"domain":[-2.2,10],"nice":false,"zero":false},"axis":{"orient":"left","values":[-0.5,0.5,1,1.5,2.5,3,3.5,4.5,5,5.5],"labels":false,"domain":false,"grid":false,"title":null,"ticks":true,"tickSize":8,"offset":-8,"tickColor":"#555555","tickWidth":2}},"y2":{"field":"hi"}}},
{"data":{"name":"bands"},"transform":[{"filter":"datum.p=='C' && datum.series=='OCEAN'"}],"mark":{"type":"area","interpolate":"monotone","color":"#8fc4e8"},
"encoding":{"x":{"field":"s","type":"quantitative","scale":{"domain":[0,1],"reverse":true,"nice":false,"zero":false},"axis":null},"y":{"field":"lo","type":"quantitative","scale":{"domain":[-2.2,10],"nice":false,"zero":false},"axis":{"orient":"left","values":[0,2,4,6],"labels":false,"domain":false,"grid":false,"title":null,"ticks":true,"tickSize":15,"offset":-15,"tickColor":"#555555","tickWidth":2.5}},"y2":{"field":"hi"}}},
{"data":{"name":"bands"},"transform":[{"filter":"datum.p=='C' && datum.series=='ATMOSPHERE'"}],"mark":{"type":"area","interpolate":"monotone","color":"#fccd84","opacity":0.95},
"encoding":{"x":{"field":"s","type":"quantitative","scale":{"domain":[0,1],"reverse":true,"nice":false,"zero":false},"axis":null},"y":{"field":"lo","type":"quantitative","scale":{"domain":[-2.2,10],"nice":false,"zero":false},"axis":{"orient":"right","values":[-0.5,0.5,1,1.5,2.5,3,3.5,4.5,5,5.5,6.5,7],"labels":false,"domain":false,"grid":false,"title":null,"ticks":true,"tickSize":8,"offset":-8,"tickColor":"#555555","tickWidth":2}},"y2":{"field":"hi"}}},
{"data":{"name":"lines"},"transform":[{"filter":"datum.p=='C' && datum.kind=='APE'"}],"mark":{"type":"line","interpolate":"monotone","strokeWidth":2.5},
"encoding":{"x":{"field":"s","type":"quantitative","scale":{"domain":[0,1],"reverse":true,"nice":false,"zero":false},"axis":null},"y":{"field":"v","type":"quantitative","scale":{"domain":[-2.2,10],"nice":false,"zero":false},"axis":{"orient":"right","values":[0,2,4,6],"labels":false,"domain":false,"grid":false,"title":null,"ticks":true,"tickSize":17,"offset":-17,"tickColor":"#555555","tickWidth":2.5}},
"stroke":{"field":"key","type":"nominal","scale":{"domain":["TOTAL APE","TOTAL EARTH","ATMOSPHERE APE","ATMOSPHERE EARTH","OCEAN APE","OCEAN EARTH","p1teal","p1yellow","p1slate","brownbar","orangebar","yellowthin","brownvert","slatethin","bluebar","darkthin","p3orange","p3lightblue","p3blue","p3slate","lightorangebar","black"],"range":["#6d5052","#76585a","#e8933f","#e6a46c","#3f5a7e","#4a6288","#a9d3cb","#f9c56e","#5b7394","#c8603f","#ee8046","#f9b866","#c47a5c","#5a7090","#8ec4e6","#3d5879","#e9905a","#b4dcec","#93c8e4","#5f7fa0","#f0874f","#222222"]},"legend":null}}},
{"data":{"name":"lines"},"transform":[{"filter":"datum.p=='C' && datum.kind=='EARTH'"}],"mark":{"type":"line","interpolate":"monotone","strokeWidth":2.5,"strokeDash":[11,7]},
"encoding":{"x":{"field":"s","type":"quantitative","scale":{"domain":[0,1],"reverse":true,"nice":false,"zero":false},"axis":null},"y":{"field":"v","type":"quantitative","scale":{"domain":[-2.2,10],"nice":false,"zero":false},"axis":null},
"stroke":{"field":"key","type":"nominal","scale":{"domain":["TOTAL APE","TOTAL EARTH","ATMOSPHERE APE","ATMOSPHERE EARTH","OCEAN APE","OCEAN EARTH","p1teal","p1yellow","p1slate","brownbar","orangebar","yellowthin","brownvert","slatethin","bluebar","darkthin","p3orange","p3lightblue","p3blue","p3slate","lightorangebar","black"],"range":["#6d5052","#76585a","#e8933f","#e6a46c","#3f5a7e","#4a6288","#a9d3cb","#f9c56e","#5b7394","#c8603f","#ee8046","#f9b866","#c47a5c","#5a7090","#8ec4e6","#3d5879","#e9905a","#b4dcec","#93c8e4","#5f7fa0","#f0874f","#222222"]},"legend":null}}},
{"data":{"name":"segs"},"transform":[{"filter":"datum.p=='C' && indexof(['slatethin','darkthin','black','yellowthin','p3lightblue'],datum.key)>=0"}],"mark":{"type":"rule","strokeWidth":1.8},
"encoding":{"x":{"field":"s1","type":"quantitative","scale":{"domain":[0,1],"reverse":true,"nice":false,"zero":false},"axis":null},"x2":{"field":"s2"},"y":{"field":"v1","type":"quantitative","scale":{"domain":[-2.2,10],"nice":false,"zero":false},"axis":null},"y2":{"field":"v2"},
"stroke":{"field":"key","type":"nominal","scale":{"domain":["TOTAL APE","TOTAL EARTH","ATMOSPHERE APE","ATMOSPHERE EARTH","OCEAN APE","OCEAN EARTH","p1teal","p1yellow","p1slate","brownbar","orangebar","yellowthin","brownvert","slatethin","bluebar","darkthin","p3orange","p3lightblue","p3blue","p3slate","lightorangebar","black"],"range":["#6d5052","#76585a","#e8933f","#e6a46c","#3f5a7e","#4a6288","#a9d3cb","#f9c56e","#5b7394","#c8603f","#ee8046","#f9b866","#c47a5c","#5a7090","#8ec4e6","#3d5879","#e9905a","#b4dcec","#93c8e4","#5f7fa0","#f0874f","#222222"]},"legend":null}}},
{"data":{"name":"segs"},"transform":[{"filter":"datum.p=='C' && indexof(['p1teal','p1yellow','p1slate','bluebar','brownvert','p3orange','p3blue','p3slate'],datum.key)>=0"}],"mark":{"type":"rule","strokeWidth":3.5},
"encoding":{"x":{"field":"s1","type":"quantitative","scale":{"domain":[0,1],"reverse":true,"nice":false,"zero":false},"axis":null},"x2":{"field":"s2"},"y":{"field":"v1","type":"quantitative","scale":{"domain":[-2.2,10],"nice":false,"zero":false},"axis":null},"y2":{"field":"v2"},
"stroke":{"field":"key","type":"nominal","scale":{"domain":["TOTAL APE","TOTAL EARTH","ATMOSPHERE APE","ATMOSPHERE EARTH","OCEAN APE","OCEAN EARTH","p1teal","p1yellow","p1slate","brownbar","orangebar","yellowthin","brownvert","slatethin","bluebar","darkthin","p3orange","p3lightblue","p3blue","p3slate","lightorangebar","black"],"range":["#6d5052","#76585a","#e8933f","#e6a46c","#3f5a7e","#4a6288","#a9d3cb","#f9c56e","#5b7394","#c8603f","#ee8046","#f9b866","#c47a5c","#5a7090","#8ec4e6","#3d5879","#e9905a","#b4dcec","#93c8e4","#5f7fa0","#f0874f","#222222"]},"legend":null}}},
{"data":{"name":"segs"},"transform":[{"filter":"datum.p=='C' && indexof(['brownbar','orangebar','lightorangebar'],datum.key)>=0"}],"mark":{"type":"rule","strokeWidth":6},
"encoding":{"x":{"field":"s1","type":"quantitative","scale":{"domain":[0,1],"reverse":true,"nice":false,"zero":false},"axis":null},"x2":{"field":"s2"},"y":{"field":"v1","type":"quantitative","scale":{"domain":[-2.2,10],"nice":false,"zero":false},"axis":null},"y2":{"field":"v2"},
"stroke":{"field":"key","type":"nominal","scale":{"domain":["TOTAL APE","TOTAL EARTH","ATMOSPHERE APE","ATMOSPHERE EARTH","OCEAN APE","OCEAN EARTH","p1teal","p1yellow","p1slate","brownbar","orangebar","yellowthin","brownvert","slatethin","bluebar","darkthin","p3orange","p3lightblue","p3blue","p3slate","lightorangebar","black"],"range":["#6d5052","#76585a","#e8933f","#e6a46c","#3f5a7e","#4a6288","#a9d3cb","#f9c56e","#5b7394","#c8603f","#ee8046","#f9b866","#c47a5c","#5a7090","#8ec4e6","#3d5879","#e9905a","#b4dcec","#93c8e4","#5f7fa0","#f0874f","#222222"]},"legend":null}}},
{"data":{"name":"leg"},"mark":{"type":"line","clip":true},
"encoding":{"x":{"field":"s","type":"quantitative","scale":{"domain":[0,1],"reverse":true,"nice":false,"zero":false},"axis":null},
"y":{"field":"v","type":"quantitative","scale":{"domain":[-2.2,10],"nice":false,"zero":false},"axis":{"orient":"left","values":[-2],"labelExpr":"'-2'","ticks":false,"domain":false,"grid":false,"title":null,"labelFontSize":24,"labelColor":"#555555","labelFont":"Liberation Sans","labelPadding":7,"labelOffset":-5}},
"color":{"field":"series","type":"nominal","scale":{"domain":["TOTAL","ATMOSPHERE","OCEAN"],"range":["transparent","transparent","transparent"]},"legend":{"orient":"none","legendX":34,"legendY":24,"title":null,"symbolType":"M-1.25,0H1.25","symbolSize":484,"symbolStrokeWidth":2,"labelFontSize":22,"labelFont":"Liberation Sans","labelColor":"#555555","labelOffset":13,"rowPadding":0,"padding":0,"labelLimit":0}},
"strokeDash":{"field":"kind","type":"nominal","scale":{"domain":["APE","EARTH"],"range":[[1,0],[14,7]]},"legend":{"orient":"none","legendX":306,"legendY":24,"title":null,"symbolType":"M-1.55,0H1.55","symbolSize":484,"symbolStrokeWidth":2,"symbolStrokeColor":"#444444","labelFontSize":22,"labelFont":"Liberation Sans","labelColor":"#555555","labelOffset":11,"rowPadding":0,"padding":0,"labelLimit":0}}}}
]
},
{
"width":457,"height":465,
"title":{"text":"QOBS","fontSize":30,"font":"Liberation Sans","fontWeight":"normal","color":"#444444","anchor":"middle","frame":"group","offset":-3,"dx":5},
"resolve":{"axis":{"x":"independent","y":"independent"}},
"layer":[
{"data":{"values":[{}]},"mark":{"type":"rule","color":"#000000","strokeWidth":4},
"encoding":{"x":{"datum":1,"type":"quantitative","scale":{"domain":[0,1],"reverse":true,"nice":false,"zero":false},"axis":{"orient":"bottom","values":[0.98481,0.86603,0.64279,0.34202,0],"labelExpr":"round(asin(datum.value)*180/PI)","title":"LATITUDE","ticks":false,"grid":false,"domain":false,"labelFontSize":24,"labelColor":"#555555","labelFont":"Liberation Sans","labelPadding":0,"labelFlush":false,"labelOverlap":false,"titleFontSize":29,"titleFont":"Liberation Sans","titleFontWeight":"normal","titleColor":"#555555","titlePadding":8}},
"x2":{"datum":-0.007},
"y":{"datum":10.5,"type":"quantitative","scale":{"domain":[-2.2,10],"nice":false,"zero":false},"axis":{"orient":"left","values":[0,2,4,6,8,10],"ticks":false,"grid":false,"domain":false,"labelFontSize":{"condition":{"test":"datum.value==10","value":27},"value":24},"labelColor":"#555555","labelFont":{"condition":{"test":"datum.value==10","value":"Liberation Serif"},"value":"Liberation Sans"},"labelPadding":7,"labelOverlap":false,"title":["\u200b\u00a0\u00a0\u00a0\u00a0$:","\u200b\u00a0\u00a0\u00a0·”","ɵ","\u200b\u00a0\u00a0\u00a0\u00a0..-"],"titleAngle":0,"titleAlign":"left","titleBaseline":"top","titleX":-93,"titleY":172,"titleFontSize":22,"titleFont":"Liberation Sans","titleFontWeight":"normal","titleColor":"#555555","titleLineHeight":29}}}},
{"data":{"name":"segs"},"transform":[{"filter":"datum.p=='Q' && indexof(['slatethin','darkthin','black','yellowthin','p3lightblue'],datum.key)>=0"}],"mark":{"type":"rule","strokeWidth":1.8},
"encoding":{"x":{"field":"s1","type":"quantitative","scale":{"domain":[0,1],"reverse":true,"nice":false,"zero":false},"axis":null},"x2":{"field":"s2"},"y":{"field":"v1","type":"quantitative","scale":{"domain":[-2.2,10],"nice":false,"zero":false},"axis":null},"y2":{"field":"v2"},
"stroke":{"field":"key","type":"nominal","scale":{"domain":["TOTAL APE","TOTAL EARTH","ATMOSPHERE APE","ATMOSPHERE EARTH","OCEAN APE","OCEAN EARTH","p1teal","p1yellow","p1slate","brownbar","orangebar","yellowthin","brownvert","slatethin","bluebar","darkthin","p3orange","p3lightblue","p3blue","p3slate","lightorangebar","black"],"range":["#6d5052","#76585a","#e8933f","#e6a46c","#3f5a7e","#4a6288","#a9d3cb","#f9c56e","#5b7394","#c8603f","#ee8046","#f9b866","#c47a5c","#5a7090","#8ec4e6","#3d5879","#e9905a","#b4dcec","#93c8e4","#5f7fa0","#f0874f","#222222"]},"legend":null}}},
{"data":{"name":"segs"},"transform":[{"filter":"datum.p=='Q' && indexof(['p1teal','p1yellow','p1slate','bluebar','brownvert','p3orange','p3blue','p3slate'],datum.key)>=0"}],"mark":{"type":"rule","strokeWidth":3.5},
"encoding":{"x":{"field":"s1","type":"quantitative","scale":{"domain":[0,1],"reverse":true,"nice":false,"zero":false},"axis":null},"x2":{"field":"s2"},"y":{"field":"v1","type":"quantitative","scale":{"domain":[-2.2,10],"nice":false,"zero":false},"axis":null},"y2":{"field":"v2"},
"stroke":{"field":"key","type":"nominal","scale":{"domain":["TOTAL APE","TOTAL EARTH","ATMOSPHERE APE","ATMOSPHERE EARTH","OCEAN APE","OCEAN EARTH","p1teal","p1yellow","p1slate","brownbar","orangebar","yellowthin","brownvert","slatethin","bluebar","darkthin","p3orange","p3lightblue","p3blue","p3slate","lightorangebar","black"],"range":["#6d5052","#76585a","#e8933f","#e6a46c","#3f5a7e","#4a6288","#a9d3cb","#f9c56e","#5b7394","#c8603f","#ee8046","#f9b866","#c47a5c","#5a7090","#8ec4e6","#3d5879","#e9905a","#b4dcec","#93c8e4","#5f7fa0","#f0874f","#222222"]},"legend":null}}},
{"data":{"name":"segs"},"transform":[{"filter":"datum.p=='Q' && indexof(['brownbar','orangebar','lightorangebar'],datum.key)>=0"}],"mark":{"type":"rule","strokeWidth":6},
"encoding":{"x":{"field":"s1","type":"quantitative","scale":{"domain":[0,1],"reverse":true,"nice":false,"zero":false},"axis":null},"x2":{"field":"s2"},"y":{"field":"v1","type":"quantitative","scale":{"domain":[-2.2,10],"nice":false,"zero":false},"axis":null},"y2":{"field":"v2"},
"stroke":{"field":"key","type":"nominal","scale":{"domain":["TOTAL APE","TOTAL EARTH","ATMOSPHERE APE","ATMOSPHERE EARTH","OCEAN APE","OCEAN EARTH","p1teal","p1yellow","p1slate","brownbar","orangebar","yellowthin","brownvert","slatethin","bluebar","darkthin","p3orange","p3lightblue","p3blue","p3slate","lightorangebar","black"],"range":["#6d5052","#76585a","#e8933f","#e6a46c","#3f5a7e","#4a6288","#a9d3cb","#f9c56e","#5b7394","#c8603f","#ee8046","#f9b866","#c47a5c","#5a7090","#8ec4e6","#3d5879","#e9905a","#b4dcec","#93c8e4","#5f7fa0","#f0874f","#222222"]},"legend":null}}},
{"data":{"name":"leg"},"mark":{"type":"line","clip":true},
"encoding":{"x":{"field":"s","type":"quantitative","scale":{"domain":[0,1],"reverse":true,"nice":false,"zero":false},"axis":null},
"y":{"field":"v","type":"quantitative","scale":{"domain":[-2.2,10],"nice":false,"zero":false},"axis":{"orient":"left","values":[-2],"labelExpr":"'-2\u00a0.........._..____.____.___\u00a0\u00a0\u00a0\u00a0\u00a0\u00a0\u00a0.______....______.______,'","labelAlign":"left","labelLimit":0,"ticks":false,"domain":false,"grid":false,"title":null,"labelFontSize":19,"labelColor":"#555555","labelFont":"Liberation Sans","labelPadding":31,"labelOffset":-13}},
"color":{"field":"series","type":"nominal","scale":{"domain":["TOTAL","ATMOSPHERE","OCEAN"],"range":["#c86a48","transparent","#4f6b8f"]},"legend":{"orient":"none","legendX":32,"legendY":24,"title":null,"symbolType":"M-1.25,0H1.25","symbolSize":484,"symbolStrokeWidth":2,"labelFontSize":22,"labelFont":"Liberation Sans","labelColor":"#555555","labelOffset":13,"rowPadding":0,"padding":0,"labelLimit":0}},
"strokeDash":{"field":"kind","type":"nominal","scale":{"domain":["APE","EARTH"],"range":[[1,0],[14,7]]},"legend":{"orient":"none","legendX":307,"legendY":24,"title":null,"symbolType":"M-1.55,0H1.55","symbolSize":484,"symbolStrokeWidth":2,"symbolStrokeColor":"#444444","labelFontSize":22,"labelFont":"Liberation Sans","labelColor":"#555555","labelOffset":15,"rowPadding":0,"padding":0,"labelLimit":0}}}}
]
},
{
"width":457,"height":465,
"title":{"text":"FLAT","fontSize":30,"font":"Liberation Sans","fontWeight":"normal","color":"#444444","anchor":"middle","frame":"group","offset":-3,"dx":5},
"resolve":{"axis":{"x":"independent","y":"independent"}},
"layer":[
{"data":{"values":[{}]},"mark":{"type":"rule","color":"#000000","strokeWidth":4},
"encoding":{"x":{"datum":1,"type":"quantitative","scale":{"domain":[0,1],"reverse":true,"nice":false,"zero":false},"axis":{"orient":"bottom","values":[0.98481,0.86603,0.64279,0.34202,0],"labelExpr":"round(asin(datum.value)*180/PI)","title":"LATITUDE","ticks":false,"grid":false,"domain":false,"labelFontSize":24,"labelColor":"#555555","labelFont":"Liberation Sans","labelPadding":0,"labelFlush":false,"labelOverlap":false,"titleFontSize":29,"titleFont":"Liberation Sans","titleFontWeight":"normal","titleColor":"#555555","titlePadding":8}},
"x2":{"datum":-0.007},
"y":{"datum":10.5,"type":"quantitative","scale":{"domain":[-2.2,10],"nice":false,"zero":false},"axis":{"orient":"left","values":[0,2,4,6,8,10],"ticks":false,"grid":false,"domain":false,"labelFontSize":24,"labelColor":"#555555","labelFont":"Liberation Sans","labelPadding":7,"labelOverlap":false,"title":["\u200b\u00a0\u00a0·”","ɵ","\u200b\u00a0\u00a0\u00a0..-"],"titleAngle":0,"titleAlign":"left","titleBaseline":"top","titleX":-86,"titleY":201,"titleFontSize":22,"titleFont":"Liberation Sans","titleFontWeight":"normal","titleColor":"#555555","titleLineHeight":29}}}},
{"data":{"values":[{}]},"mark":{"type":"rule","color":"#444444","strokeWidth":3},
"encoding":{"x":{"datum":0,"type":"quantitative","scale":{"domain":[0,1],"reverse":true,"nice":false,"zero":false},"axis":null},"y":{"datum":-0.25,"type":"quantitative","scale":{"domain":[-2.2,10],"nice":false,"zero":false},"axis":null},"y2":{"datum":7.7}}},
{"data":{"values":[{}]},"mark":{"type":"rule","color":"#555555","strokeWidth":3},
"encoding":{"x":{"datum":1,"type":"quantitative","scale":{"domain":[0,1],"reverse":true,"nice":false,"zero":false},"axis":null},"y":{"datum":-0.3,"type":"quantitative","scale":{"domain":[-2.2,10],"nice":false,"zero":false},"axis":null},"y2":{"datum":10}}},
{"data":{"name":"bands"},"transform":[{"filter":"datum.p=='F' && datum.series=='TOTAL'"}],"mark":{"type":"area","interpolate":"monotone","color":"#ef6b33"},
"encoding":{"x":{"field":"s","type":"quantitative","scale":{"domain":[0,1],"reverse":true,"nice":false,"zero":false},"axis":null},"y":{"field":"lo","type":"quantitative","scale":{"domain":[-2.2,10],"nice":false,"zero":false},"axis":{"orient":"left","values":[0.5,1,1.5,2.5,3,3.5,4.5,5,5.5],"labels":false,"domain":false,"grid":false,"title":null,"ticks":true,"tickSize":8,"offset":-8,"tickColor":"#555555","tickWidth":2}},"y2":{"field":"hi"}}},
{"data":{"name":"bands"},"transform":[{"filter":"datum.p=='F' && datum.series=='OCEAN'"}],"mark":{"type":"area","interpolate":"monotone","color":"#8fc4e8"},
"encoding":{"x":{"field":"s","type":"quantitative","scale":{"domain":[0,1],"reverse":true,"nice":false,"zero":false},"axis":null},"y":{"field":"lo","type":"quantitative","scale":{"domain":[-2.2,10],"nice":false,"zero":false},"axis":{"orient":"left","values":[0,2,4,6],"labels":false,"domain":false,"grid":false,"title":null,"ticks":true,"tickSize":15,"offset":-15,"tickColor":"#555555","tickWidth":2.5}},"y2":{"field":"hi"}}},
{"data":{"name":"bands"},"transform":[{"filter":"datum.p=='F' && datum.series=='ATMOSPHERE'"}],"mark":{"type":"area","interpolate":"monotone","color":"#fbc46d","opacity":0.95},
"encoding":{"x":{"field":"s","type":"quantitative","scale":{"domain":[0,1],"reverse":true,"nice":false,"zero":false},"axis":null},"y":{"field":"lo","type":"quantitative","scale":{"domain":[-2.2,10],"nice":false,"zero":false},"axis":{"orient":"right","values":[0.5,1,1.5,2.5,3,3.5,4.5,5,5.5,6.5,7,7.5],"labels":false,"domain":false,"grid":false,"title":null,"ticks":true,"tickSize":8,"offset":-8,"tickColor":"#555555","tickWidth":2}},"y2":{"field":"hi"}}},
{"data":{"name":"lines"},"transform":[{"filter":"datum.p=='F' && datum.kind=='APE'"}],"mark":{"type":"line","interpolate":"monotone","strokeWidth":2.5},
"encoding":{"x":{"field":"s","type":"quantitative","scale":{"domain":[0,1],"reverse":true,"nice":false,"zero":false},"axis":null},"y":{"field":"v","type":"quantitative","scale":{"domain":[-2.2,10],"nice":false,"zero":false},"axis":{"orient":"right","values":[0,2,4,6],"labels":false,"domain":false,"grid":false,"title":null,"ticks":true,"tickSize":17,"offset":-17,"tickColor":"#555555","tickWidth":2.5}},
"stroke":{"field":"key","type":"nominal","scale":{"domain":["TOTAL APE","TOTAL EARTH","ATMOSPHERE APE","ATMOSPHERE EARTH","OCEAN APE","OCEAN EARTH","p1teal","p1yellow","p1slate","brownbar","orangebar","yellowthin","brownvert","slatethin","bluebar","darkthin","p3orange","p3lightblue","p3blue","p3slate","lightorangebar","black"],"range":["#6d5052","#76585a","#e8933f","#e6a46c","#3f5a7e","#4a6288","#a9d3cb","#f9c56e","#5b7394","#c8603f","#ee8046","#f9b866","#c47a5c","#5a7090","#8ec4e6","#3d5879","#e9905a","#b4dcec","#93c8e4","#5f7fa0","#f0874f","#222222"]},"legend":null}}},
{"data":{"name":"lines"},"transform":[{"filter":"datum.p=='F' && datum.kind=='EARTH'"}],"mark":{"type":"line","interpolate":"monotone","strokeWidth":2.5,"strokeDash":[11,7]},
"encoding":{"x":{"field":"s","type":"quantitative","scale":{"domain":[0,1],"reverse":true,"nice":false,"zero":false},"axis":null},"y":{"field":"v","type":"quantitative","scale":{"domain":[-2.2,10],"nice":false,"zero":false},"axis":null},
"stroke":{"field":"key","type":"nominal","scale":{"domain":["TOTAL APE","TOTAL EARTH","ATMOSPHERE APE","ATMOSPHERE EARTH","OCEAN APE","OCEAN EARTH","p1teal","p1yellow","p1slate","brownbar","orangebar","yellowthin","brownvert","slatethin","bluebar","darkthin","p3orange","p3lightblue","p3blue","p3slate","lightorangebar","black"],"range":["#6d5052","#76585a","#e8933f","#e6a46c","#3f5a7e","#4a6288","#a9d3cb","#f9c56e","#5b7394","#c8603f","#ee8046","#f9b866","#c47a5c","#5a7090","#8ec4e6","#3d5879","#e9905a","#b4dcec","#93c8e4","#5f7fa0","#f0874f","#222222"]},"legend":null}}},
{"data":{"name":"segs"},"transform":[{"filter":"datum.p=='F' && indexof(['slatethin','darkthin','black','yellowthin','p3lightblue'],datum.key)>=0"}],"mark":{"type":"rule","strokeWidth":1.8},
"encoding":{"x":{"field":"s1","type":"quantitative","scale":{"domain":[0,1],"reverse":true,"nice":false,"zero":false},"axis":null},"x2":{"field":"s2"},"y":{"field":"v1","type":"quantitative","scale":{"domain":[-2.2,10],"nice":false,"zero":false},"axis":null},"y2":{"field":"v2"},
"stroke":{"field":"key","type":"nominal","scale":{"domain":["TOTAL APE","TOTAL EARTH","ATMOSPHERE APE","ATMOSPHERE EARTH","OCEAN APE","OCEAN EARTH","p1teal","p1yellow","p1slate","brownbar","orangebar","yellowthin","brownvert","slatethin","bluebar","darkthin","p3orange","p3lightblue","p3blue","p3slate","lightorangebar","black"],"range":["#6d5052","#76585a","#e8933f","#e6a46c","#3f5a7e","#4a6288","#a9d3cb","#f9c56e","#5b7394","#c8603f","#ee8046","#f9b866","#c47a5c","#5a7090","#8ec4e6","#3d5879","#e9905a","#b4dcec","#93c8e4","#5f7fa0","#f0874f","#222222"]},"legend":null}}},
{"data":{"name":"segs"},"transform":[{"filter":"datum.p=='F' && indexof(['brownbar','orangebar','lightorangebar'],datum.key)>=0"}],"mark":{"type":"rule","strokeWidth":6},
"encoding":{"x":{"field":"s1","type":"quantitative","scale":{"domain":[0,1],"reverse":true,"nice":false,"zero":false},"axis":null},"x2":{"field":"s2"},"y":{"field":"v1","type":"quantitative","scale":{"domain":[-2.2,10],"nice":false,"zero":false},"axis":null},"y2":{"field":"v2"},
"stroke":{"field":"key","type":"nominal","scale":{"domain":["TOTAL APE","TOTAL EARTH","ATMOSPHERE APE","ATMOSPHERE EARTH","OCEAN APE","OCEAN EARTH","p1teal","p1yellow","p1slate","brownbar","orangebar","yellowthin","brownvert","slatethin","bluebar","darkthin","p3orange","p3lightblue","p3blue","p3slate","lightorangebar","black"],"range":["#6d5052","#76585a","#e8933f","#e6a46c","#3f5a7e","#4a6288","#a9d3cb","#f9c56e","#5b7394","#c8603f","#ee8046","#f9b866","#c47a5c","#5a7090","#8ec4e6","#3d5879","#e9905a","#b4dcec","#93c8e4","#5f7fa0","#f0874f","#222222"]},"legend":null}}},
{"data":{"name":"leg"},"mark":{"type":"line","clip":true},
"encoding":{"x":{"field":"s","type":"quantitative","scale":{"domain":[0,1],"reverse":true,"nice":false,"zero":false},"axis":null},
"y":{"field":"v","type":"quantitative","scale":{"domain":[-2.2,10],"nice":false,"zero":false},"axis":{"orient":"left","values":[-2],"labelExpr":"'-2\u00a0..........\u00a0\u00a0\u00a0\u00a0..___.____.___\u00a0\u00a0\u00a0\u00a0\u00a0\u00a0\u00a0._______.\u00a0\u00a0\u00a0\u00a0\u00a0\u00a0\u00a0__\u00a0\u00a0\u00a0\u00a0\u00a0\u00a0._______,'","labelAlign":"left","labelLimit":0,"ticks":false,"domain":false,"grid":false,"title":null,"labelFontSize":19,"labelColor":"#555555","labelFont":"Liberation Serif","labelPadding":28,"labelOffset":-13}},
"color":{"field":"series","type":"nominal","scale":{"domain":["TOTAL","ATMOSPHERE","OCEAN"],"range":["transparent","transparent","transparent"]},"legend":{"orient":"none","legendX":34,"legendY":23,"title":null,"symbolType":"M-1.25,0H1.25","symbolSize":484,"symbolStrokeWidth":2,"labelFontSize":22,"labelFont":"Liberation Sans","labelColor":"#555555","labelOffset":13,"rowPadding":0,"padding":0,"labelLimit":0}},
"strokeDash":{"field":"kind","type":"nominal","scale":{"domain":["APE","EARTH"],"range":[[1,0],[14,7]]},"legend":{"orient":"none","legendX":306,"legendY":24,"title":null,"symbolType":"M-1.55,0H1.55","symbolSize":484,"symbolStrokeWidth":2,"symbolStrokeColor":"#444444","labelFontSize":22,"labelFont":"Liberation Sans","labelColor":"#555555","labelOffset":11,"rowPadding":0,"padding":0,"labelLimit":0}}}}
]
}
]
}
